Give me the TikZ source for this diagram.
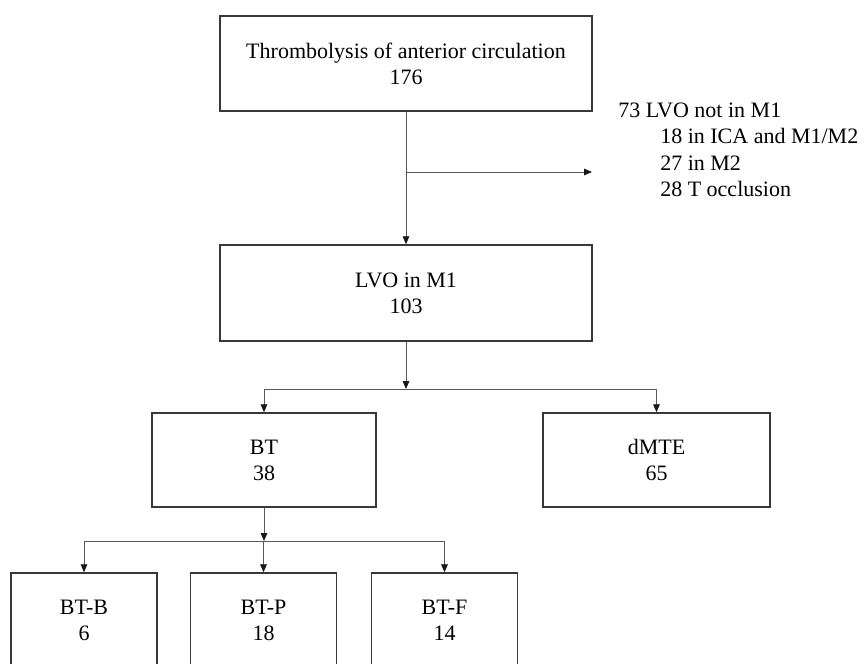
\documentclass[tikz,border=0pt]{standalone}
\usepackage{fontspec}
\setmainfont{Liberation Serif}
\usetikzlibrary{arrows.meta}
\begin{document}
\begin{tikzpicture}[x=0.75pt,y=-0.75pt,
  box/.style={draw=black!78,line width=1.1pt,rectangle,align=center,inner sep=0pt,
    font=\fontsize{16.5pt}{19.5pt}\selectfont},
  conn/.style={draw=black!65,line width=0.7pt},
  arr/.style={conn,-{Triangle[length=6pt,width=5pt,color=black!90,fill=black!90]}},
  side/.style={anchor=base west,inner sep=0pt,font=\fontsize{16.5pt}{19.5pt}\selectfont}]
\useasboundingbox (0,0) rectangle (864,664);
\node[box,minimum width=279pt,minimum height=71.25pt] (b1) at (406,63.5) {Thrombolysis of anterior circulation\\176};
\node[box,minimum width=279pt,minimum height=72pt] (b2) at (406,293) {LVO in M1\\103};
\node[box,minimum width=168pt,minimum height=70.5pt] (bt) at (264,460) {BT\\38};
\node[box,minimum width=170.25pt,minimum height=70.5pt] (dm) at (656.5,460) {dMTE\\65};
\node[box,minimum width=109.5pt,minimum height=71.25pt] (btb) at (84,620.5) {BT-B\\6};
\node[box,minimum width=109.5pt,minimum height=71.25pt] (btp) at (263.5,620.5) {BT-P\\18};
\node[box,minimum width=109.5pt,minimum height=71.25pt] (btf) at (444.5,620.5) {BT-F\\14};
\node[side] (t1) at (618,117) {73 LVO not in M1};
\node[side] (t2) at (660,143) {18 in ICA and M1/M2};
\node[side] (t3) at (660,170) {27 in M2};
\node[side] (t4) at (660,196) {28 T occlusion};
\coordinate (m1) at (406,172);
\coordinate (sideend) at (592,172);
\coordinate (j1) at (406,389);
\coordinate (j2) at (264,541);
\draw[arr] (b1.south) -- (b2.north);
\draw[arr] (m1) -- (sideend);
\draw[arr] (b2.south) -- (j1);
\draw[conn] (bt.north |- j1) -- (dm.north |- j1);
\draw[arr] (bt.north |- j1) -- (bt.north);
\draw[arr] (dm.north |- j1) -- (dm.north);
\draw[arr] (bt.south) -- (j2);
\draw[conn] (btb.north |- j2) -- (btf.north |- j2);
\draw[arr] (btb.north |- j2) -- (btb.north);
\draw[arr] (btp.north |- j2) -- (btp.north);
\draw[arr] (btf.north |- j2) -- (btf.north);
\end{tikzpicture}
\end{document}
